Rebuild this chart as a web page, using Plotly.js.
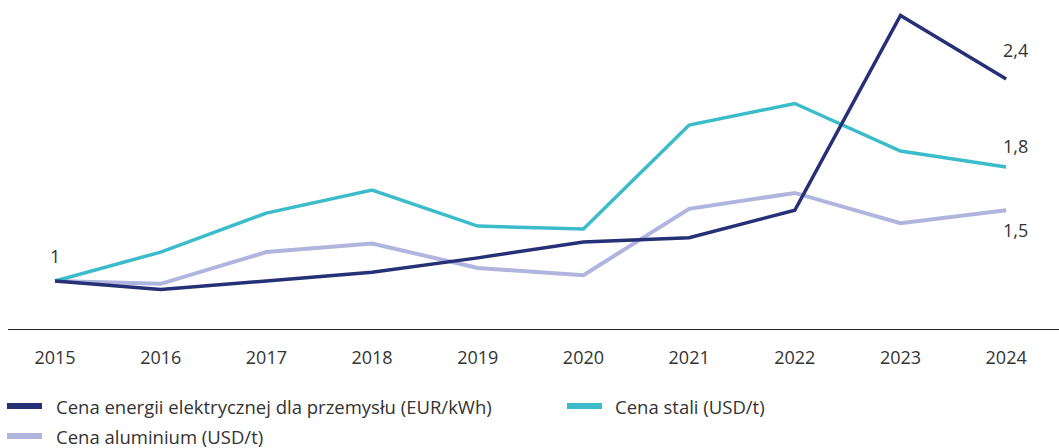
<!DOCTYPE html>
<html>
<head>
<meta charset="utf-8">
<script src="https://cdn.plot.ly/plotly-3.0.1.min.js"></script>
<style>html,body{margin:0;padding:0;background:#fff;}#chart{width:1059px;height:448px;}</style>
</head>
<body>
<div id="chart"></div>
<script>
const years = [2015, 2016, 2017, 2018, 2019, 2020, 2021, 2022, 2023, 2024];
const energyPrice = [1.00, 0.94, 1.00, 1.06, 1.16, 1.27, 1.30, 1.49, 2.84, 2.40];
const steelPrice = [1.00, 1.20, 1.47, 1.63, 1.38, 1.36, 2.08, 2.23, 1.90, 1.79];
const aluminiumPrice = [1.00, 0.98, 1.20, 1.26, 1.09, 1.04, 1.50, 1.61, 1.40, 1.49];
const seriesNames = ["Cena energii elektrycznej dla przemysłu (EUR/kWh)", "Cena stali (USD/t)", "Cena aluminium (USD/t)"];
const seriesColors = ["#253077", "#3cbccb", "#b0b5de"];
const startLabel = "1";
const endLabels = ["2,4", "1,8", "1,5"];

const W = 1059, H = 448, ML = 8, MB = 119;
const plotW = W - ML, plotH = H - MB;
const px2x = p => (p - ML) / plotW;
const px2y = p => (plotH - p) / plotH;

const font = "'Open Sans', 'Noto Sans', sans-serif";
const seriesValues = [energyPrice, steelPrice, aluminiumPrice];
const widths = [3.5, 3.5, 4];
const order = [2, 1, 0];
const traces = order.map(i => ({
  x: years, y: seriesValues[i], type: 'scatter', mode: 'lines',
  name: seriesNames[i], line: {color: seriesColors[i], width: widths[i]},
  showlegend: false, hoverinfo: 'skip'
}));

const last = years.length - 1;
const txtFont = {family: font, size: 18, color: '#333'};
const legFont = {family: font, size: 18.5, color: '#333'};
const annotations = [
  {x: years[0], y: energyPrice[0], text: startLabel, showarrow: false, yshift: 25, xshift: 0},
  {x: years[last], y: energyPrice[last], text: endLabels[0], showarrow: false, yshift: 29, xshift: 9},
  {x: years[last], y: steelPrice[last], text: endLabels[1], showarrow: false, yshift: 21, xshift: 9},
  {x: years[last], y: aluminiumPrice[last], text: endLabels[2], showarrow: false, yshift: -20, xshift: 9}
].map(a => Object.assign(a, {xanchor: 'center', yanchor: 'middle', font: txtFont}));

// manual legend (paper coordinates)
const legendPos = [{bx: 7, tx: 55, y: 406}, {bx: 567, tx: 614, y: 406}, {bx: 7, tx: 55, y: 436}];
const shapes = [];
legendPos.forEach((p, i) => {
  shapes.push({type: 'line', xref: 'paper', yref: 'paper',
    x0: px2x(p.bx), x1: px2x(p.bx + 35), y0: px2y(p.y), y1: px2y(p.y),
    line: {color: seriesColors[i], width: 6}});
  annotations.push({xref: 'paper', yref: 'paper', x: px2x(p.tx), y: px2y(p.y),
    xanchor: 'left', yanchor: 'middle', showarrow: false, text: seriesNames[i], font: legFont, borderpad: 0});
});

const layout = {
  width: W, height: H,
  margin: {l: ML, r: 0, t: 0, b: MB},
  paper_bgcolor: '#fff', plot_bgcolor: '#fff',
  font: {family: font, color: '#333', size: 18},
  xaxis: {
    range: [2014.555, 2024.50], tickvals: years, ticktext: years.map(String),
    showgrid: false, zeroline: false, showline: true, linecolor: '#222', linewidth: 1,
    ticks: '', tickfont: {size: 18, color: '#333'}, ticklabelstandoff: 12, fixedrange: true
  },
  yaxis: {range: [0.667, 2.947], showgrid: false, zeroline: false, showticklabels: false, showline: false, fixedrange: true},
  showlegend: false,
  shapes: shapes,
  annotations: annotations
};
Plotly.newPlot('chart', traces, layout, {displayModeBar: false, staticPlot: true});
</script>
</body>
</html>
